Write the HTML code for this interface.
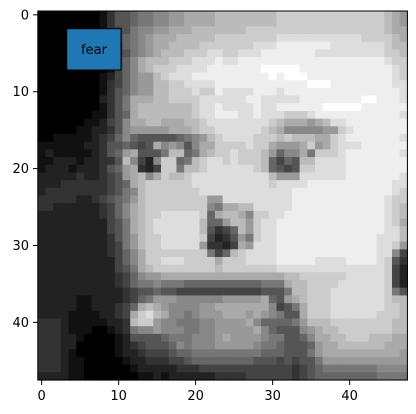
<!DOCTYPE html>
<html><head><meta charset="utf-8"><style>
body{margin:0;background:#fff;}
svg{display:block;font-family:"DejaVu Sans","Liberation Sans",sans-serif;}
</style></head><body>
<svg id="chart" width="416" height="414" viewBox="0 0 416 414">
<g id="cells"></g>
<rect x="37.8" y="11" width="369.6" height="369" fill="none" stroke="#000" stroke-width="1"/>
<g id="xticks"></g>
<g id="yticks"></g>
<g>
<rect x="66.7" y="28.7" width="54.3" height="41.3" fill="#1f77b4" stroke="#000" stroke-width="1"/>
<text x="94" y="54" font-size="13" text-anchor="middle" fill="#000">fear</text>
</g>
</svg>
<script>
const pixelRows = [
"00000000 13556778 899aaaab bbbbbbbc cccccccc cccccba9",
"00000000 13556778 899aaaab bbbbbbbc cccccccc cccccba9",
"00000000 13457889 9aaabbbb bbbccccc cccccccc cccccbaa",
"00000000 1346789a aabbbbbc cccccccd dddddddd ddccccba",
"00000000 0236789a abbbbccc ccccddde eeeeeedd dddddcbb",
"00000000 0235789a bbbcccdd ccdddeee eeeedddd dddddccb",
"00000000 02468abb bcccddde ddeeeeee eeeeeeee eeeeedcc",
"00000000 01468abc ccddddee eeeeefff ffeeeeee eeeeeedc",
"00000000 1246899b cdddeeee eeeeeefe fffeeeee eeeeeedc",
"00000000 1346899b bccdddde eeeeeeee eeefffee eeeeeedd",
"00000000 1356899b bcccdcce ddddeeed eeeeeeee eeeeeeed",
"00000000 2357aaab bccccddd dddeeddd ddeeeeee eeffeeed",
"00000000 1357abbb bbbbcdde ddddedde eeeeefff ffeeeeee",
"00000001 1356abbb bbbbcdde eeddeddd cccdeeee eeeeeeed",
"00000011 2458aabb aaabbcdd ddddddcb aaa9abdd eeeeeeee",
"00000112 23589999 9aaabccd dddddcba 8888899c deeeeeee",
"00111112 34686555 556789bc ddddcccb cbbbaacd eeeeeeed",
"11111122 3556545a 89858aac cccdcca9 99ac9acd ddeeeeee",
"12111112 3569a555 7bb67abc cdcccb96 88a7cccd eeeeeeed",
"11222122 335b8428 cc67bcdd cdcccb64 65bbdddd eeeeeeee",
"12221222 3569a324 cc7bbcdd ddddcb65 45ccdddd eeeeeeee",
"22222322 3459ab8a cbbcdddd ddddddb9 99dddddd eeeeeeed",
"22233333 3456abcc ccccdddd ddddddcd dddeeeee eeeeeedd",
"23333333 34578bcc cccccddd dddddddd deeeeeee eeeeeedc",
"33333223 45679bcc cccccc99 dddddddd deeeeeee eeeeedcc",
"33222222 3468abcc cccccc87 aabbdddd deeeeeee eeeeedcb",
"22222222 3468abcc dddddc6a bba8ccdd eeeeeeee eeeeedcb",
"22222222 2457abcd dddddb66 9bb9cdde eeeeeeee eeeeedca",
"22222222 2457abcd dddddb53 46b9cdde eeeeeeee eeeeeddb",
"22222222 23579bcc dddddc42 3597cdde eeeeeeee eeeedddb",
"22222222 23479bcc ddddd933 24a9ddde eeeeeeee eeeeddc9",
"22222222 23468acc cccccc74 6bcdddde eeeeeeee eeeedd84",
"22222222 22468acc dddcccca cccdddde eeeedddd eeeedc53",
"22222222 22457abc cccccccb cccccccd dddddddd dddddc42",
"22222222 22346899 aaaaaaaa aaaaaaaa bbcccccc dddddc42",
"22222222 22346778 77766666 66666777 abbccccd dddddc42",
"22222222 22234556 55444444 44444555 7bbcccdd dddddc75",
"22222112 22234679 99888888 99999a65 9abcccdd dddddcbb",
"22222112 22346aba 9888899a aaaaaa84 57acccdd dddddccb",
"22221111 2234acdb a8878999 aaa9a987 55acccdd ddddcccb",
"33321111 1223bcc9 88777889 999a8666 679bbbcc ccccccbb",
"33321110 01237889 88877889 9999a865 5589abbc ccccccbb",
"33322100 00125555 67778889 a9999877 5568aabb cccbbbaa",
"33322000 00123455 56878889 99998776 55569aab bbbbbaaa",
"33321000 00122344 45667777 77777666 55579aaa aaaaaaa9",
"33321100 00012233 34456666 66665554 54557999 99999999",
"33321100 00001222 22333444 44444444 43456777 77778888",
"22221100 00000112 12222223 33344444 43456666 66667777"
].map(s => s.replace(/ /g, ""));
const xTickValues = [0, 10, 20, 30, 40];
const yTickValues = [0, 10, 20, 30, 40];

const NS = "http://www.w3.org/2000/svg";
const nCols = 48, nRows = 48;
const x0 = 37.8, y0 = 11, cw = 369.6 / nCols, ch = 369 / nRows;
function xPos(c){ return x0 + c * cw; }
function yPos(r){ return y0 + r * ch; }
function gray(d){ const v = Math.round(parseInt(d, 16) / 15 * 255); return `rgb(${v},${v},${v})`; }

const cells = document.getElementById("cells");
pixelRows.forEach((row, r) => {
  for (let c = 0; c < nCols; c++) {
    const d = row[c] !== undefined ? row[c] : row[row.length - 1];
    const rect = document.createElementNS(NS, "rect");
    
    
    rect.setAttribute("x", xPos(c));
    rect.setAttribute("y", yPos(r));
    rect.setAttribute("width", cw + 0.6);
    rect.setAttribute("height", ch + 0.6);
    rect.setAttribute("fill", gray(d));
    cells.appendChild(rect);
  }
});

const xg = document.getElementById("xticks");
xTickValues.forEach(v => {
  const x = xPos(v + 0.5);
  const t = document.createElementNS(NS, "line");
  
  
  t.setAttribute("x1", x); t.setAttribute("x2", x);
  t.setAttribute("y1", 380); t.setAttribute("y2", 385);
  t.setAttribute("stroke", "#000");
  xg.appendChild(t);
  const l = document.createElementNS(NS, "text");
  
  
  l.setAttribute("x", x); l.setAttribute("y", 400);
  l.setAttribute("font-size", "13"); l.setAttribute("text-anchor", "middle");
  l.textContent = v;
  xg.appendChild(l);
});
const yg = document.getElementById("yticks");
yTickValues.forEach(v => {
  const y = yPos(v + 0.5);
  const t = document.createElementNS(NS, "line");
  
  
  t.setAttribute("x1", 33); t.setAttribute("x2", 37.8);
  t.setAttribute("y1", y); t.setAttribute("y2", y);
  t.setAttribute("stroke", "#000");
  yg.appendChild(t);
  const l = document.createElementNS(NS, "text");
  
  
  l.setAttribute("x", 29); l.setAttribute("y", y + 4.5);
  l.setAttribute("font-size", "13"); l.setAttribute("text-anchor", "end");
  l.textContent = v;
  yg.appendChild(l);
});
</script>
</body></html>
